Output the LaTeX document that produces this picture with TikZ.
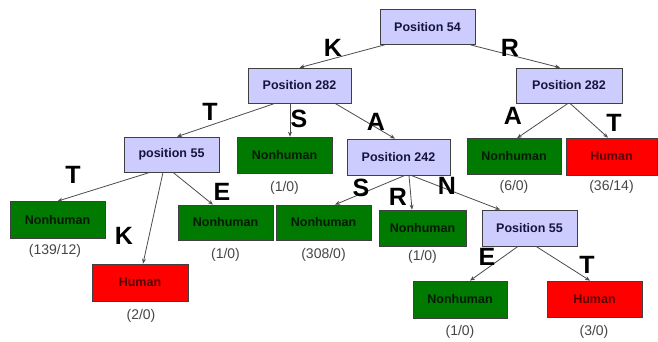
\documentclass[tikz,border=0pt]{standalone}
\usepackage{fontspec}
\setmainfont{Liberation Sans}
\usetikzlibrary{arrows.meta}
\definecolor{lav}{RGB}{204,204,255}
\definecolor{grn}{RGB}{0,122,0}
\definecolor{rd}{RGB}{255,0,0}
\definecolor{cntgray}{RGB}{70,70,70}
\tikzset{
  box/.style={draw=black!75, line width=0.7pt, minimum height=35pt, minimum width=95pt, inner sep=0pt,
    font=\bfseries\fontsize{12.5}{13}\selectfont, text=black!85},
  posbox/.style={box, fill=lav, text={rgb,255:red,20;green,20;blue,60}},
  nonh/.style={box, fill=grn, minimum height=36pt, text={rgb,255:red,5;green,25;blue,5}},
  hum/.style={box, fill=rd, minimum height=36pt, text={rgb,255:red,90;green,0;blue,0}},
  elab/.style={font=\bfseries\fontsize{25}{25}\selectfont, text=black, inner sep=0pt},
  cnt/.style={font=\fontsize{14}{14}\selectfont, text=cntgray, inner sep=0pt},
  edge/.style={draw=black!70, line width=0.8pt, -{Stealth[length=5pt,width=4pt]}}
}
\begin{document}
\begin{tikzpicture}[x=1pt,y=-1pt]
\useasboundingbox[fill=white] (0,0) rectangle (658,341);
% nodes
\node[posbox] (p54) at (427.5,27) {Position 54};
\node[posbox, minimum width=103pt] (l282) at (299.5,85.5) {Position 282};
\node[posbox, minimum width=106pt] (r282) at (569,85.5) {Position 282};
\node[posbox] (p55) at (171.5,154.5) {position 55};
\node[nonh] (nS) at (284.5,155) {Nonhuman};
\node[posbox, minimum width=103pt, minimum height=36pt] (p242) at (398.5,157) {Position 242};
\node[nonh, minimum width=94pt] (nA) at (514,156.5) {Nonhuman};
\node[hum, minimum width=91pt, minimum height=37pt] (h36) at (611.5,156.5) {Human};
\node[nonh, minimum height=37pt] (nT) at (57.5,220) {Nonhuman};
\node[hum, minimum width=96pt, minimum height=37pt] (h2) at (140,282.5) {Human};
\node[nonh, minimum height=35pt] (nE) at (225.5,222.5) {Nonhuman};
\node[nonh, minimum height=35pt] (n308) at (323.5,222.5) {Nonhuman};
\node[nonh, minimum width=87pt] (nR) at (422.5,228) {Nonhuman};
\node[posbox, minimum height=36pt] (p55b) at (529.5,228) {Position 55};
\node[nonh, minimum width=94pt, minimum height=37pt] (nB) at (460,299.5) {Nonhuman};
\node[hum, minimum width=95pt, minimum height=36pt] (h3) at (594.5,299) {Human};
% edges
\draw[edge] ([xshift=5pt]p54.south west) -- (l282.north);
\draw[edge] ([xshift=-5pt]p54.south east) -- ([xshift=-9pt]r282.north);
\draw[edge] ([xshift=-24.5pt]l282.south) -- ([xshift=5.5pt]p55.north);
\draw[edge] ([xshift=-9.5pt]l282.south) -- ([xshift=5.5pt]nS.north);
\draw[edge] ([xshift=35.5pt]l282.south) -- ([xshift=-3.5pt]p242.north);
\draw[edge] ([xshift=-1pt]r282.south) -- ([xshift=3pt]nA.north);
\draw[edge] ([xshift=1pt]r282.south) -- ([xshift=-3.5pt]h36.north);
\draw[edge] ([xshift=-21.5pt]p55.south) -- (nT.north);
\draw[edge] ([xshift=-8.5pt]p55.south) -- ([xshift=3pt]h2.north);
\draw[edge] ([xshift=1.5pt]p55.south) -- ([xshift=-12.5pt]nE.north);
\draw[edge] ([xshift=6.5pt]p242.south) -- ([xshift=11.5pt]n308.north);
\draw[edge] ([xshift=10.5pt]p242.south) -- ([xshift=-10.5pt]nR.north);
\draw[edge] ([xshift=12.5pt]p242.south) -- ([xshift=-29.5pt]p55b.north);
\draw[edge] ([xshift=-11.5pt]p55b.south) -- ([xshift=10pt]nB.north);
\draw[edge] ([xshift=6.5pt]p55b.south) -- ([xshift=-4.5pt]h3.north);
% edge labels
\node[elab] (eK1) at (333,48) {K};
\node[elab] (eR1) at (510,48) {R};
\node[elab] (eT1) at (210,112) {T};
\node[elab] (eS1) at (299,119) {S};
\node[elab] (eA1) at (376,122) {A};
\node[elab] (eA2) at (513,116) {A};
\node[elab] (eT2) at (614,123) {T};
\node[elab] (eT3) at (73,175) {T};
\node[elab] (eK2) at (124,236) {K};
\node[elab] (eE1) at (222,192) {E};
\node[elab] (eS2) at (361,188) {S};
\node[elab] (eR2) at (398,197) {R};
\node[elab] (eN1) at (447,186) {N};
\node[elab] (eE2) at (487,257) {E};
\node[elab] (eT4) at (587,265) {T};
% counts
\node[cnt] (cS) at (284.5,188) {(1/0)};
\node[cnt] (cA) at (514,187) {(6/0)};
\node[cnt] (c36) at (611.5,187) {(36/14)};
\node[cnt] (cT) at (55,251) {(139/12)};
\node[cnt] (c2) at (141,316) {(2/0)};
\node[cnt] (cE) at (225.5,255) {(1/0)};
\node[cnt] (c308) at (323.5,255) {(308/0)};
\node[cnt] (cR) at (422.5,257) {(1/0)};
\node[cnt] (cB) at (460,332) {(1/0)};
\node[cnt] (c3) at (594,332) {(3/0)};
\end{tikzpicture}
\end{document}
